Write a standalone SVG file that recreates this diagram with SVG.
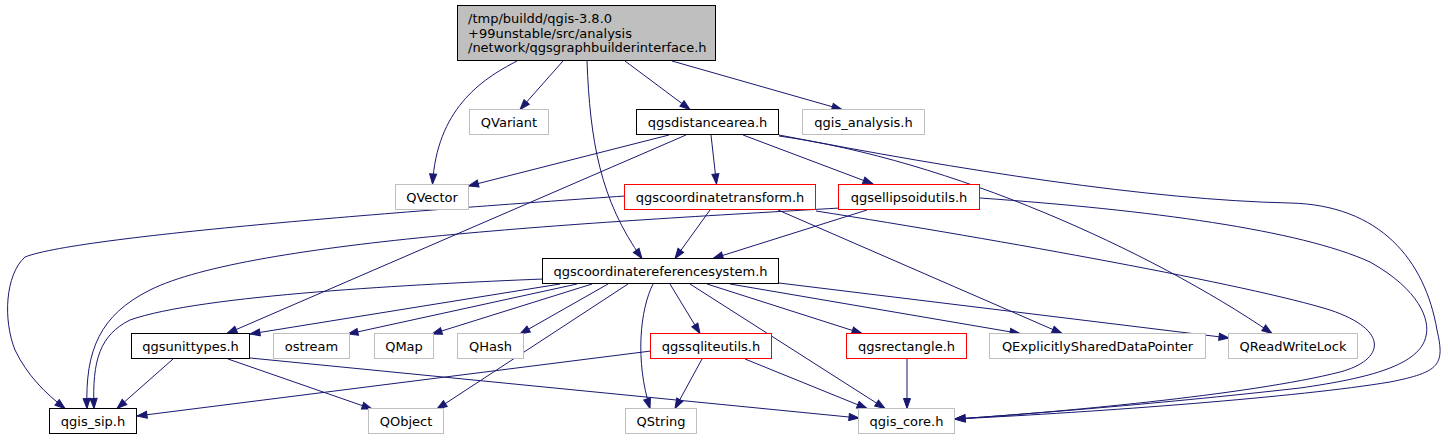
<svg xmlns="http://www.w3.org/2000/svg" width="1448" height="440" viewBox="0 0 1448 440">
<style>
.n rect{fill:#fff;stroke-width:1}
.k rect{stroke:#000}
.g rect{stroke:#bfbfbf}
.r rect{stroke:#ff0000}
text{font-family:"DejaVu Sans","Liberation Sans",sans-serif;font-size:13px;fill:#000}
.n text{text-anchor:middle}
#edges path{fill:none;stroke:#191970;stroke-width:1;marker-end:url(#ah)}
</style>
<defs>
<marker id="ah" viewBox="-1 -1 12 9" refX="10" refY="3.5" markerWidth="12" markerHeight="9" markerUnits="userSpaceOnUse" orient="auto">
<path d="M0,0 L10,3.5 L0,7 z" fill="#191970" stroke="#191970" stroke-width="1"/>
</marker>
</defs>
<rect width="1448" height="440" fill="#fff"/>
<g id="edges">
<path d="M517,61 C480,80 437,110 432.5,184"/>
<path d="M563,61 L520,109.5"/>
<path d="M587,61 C590,140 600,200 642,258.5"/>
<path d="M625,61 L690,109.5"/>
<path d="M672,61 L842,109.5"/>
<path d="M669,135 L468.5,186"/>
<path d="M686,135 L227,333.5"/>
<path d="M711,135 L716.5,184"/>
<path d="M743,135 L873,184"/>
<path d="M779,136 C950,160 1150,250 1272,333.5"/>
<path d="M779,135 C960,170 1150,200 1290,203 C1380,205 1425,260 1437,330 C1445,365 1440,372 1390,382 C1300,397 1100,412 955,419"/>
<path d="M980,198 C1150,210 1300,230 1370,262 C1420,290 1430,320 1426,336 C1420,365 1370,378 1300,388 C1150,405 1000,416 955,419"/>
<path d="M816,211 C1000,240 1250,285 1330,310 C1390,330 1385,360 1340,372 C1250,395 1050,413 955,419"/>
<path d="M625,196 C450,208 80,235 25,257 C5,275 3,320 15,350 C27,375 45,393 65,408.5"/>
<path d="M840,208 C600,222 250,240 150,290 C100,315 85,350 87,408.5"/>
<path d="M543,279 C420,284 200,295 130,320 C100,335 92,360 94,408.5"/>
<path d="M778,210 L1062,333.5"/>
<path d="M710,210 L675,258.5"/>
<path d="M867,210 L713,258.5"/>
<path d="M560,284 L250,334"/>
<path d="M577,284 L348,334"/>
<path d="M592,284 L432,334"/>
<path d="M608,284 L520,334"/>
<path d="M628,284 L437,409"/>
<path d="M653,284 C640,310 635,360 650,408.5"/>
<path d="M670,284 L700,333.5"/>
<path d="M690,284 L885,408.5"/>
<path d="M707,284 L862,333.5"/>
<path d="M730,284 L1020,333.5"/>
<path d="M779,283 L1229,338"/>
<path d="M173,359 L117,408.5"/>
<path d="M228,359 L372,409"/>
<path d="M250,358 L859,418"/>
<path d="M651,351 L137,416"/>
<path d="M702,359 L675,408.5"/>
<path d="M745,359 L867,408.5"/>
<path d="M907,359 L907,408.5"/>
</g>
<g id="root"><rect x="457.5" y="5.5" width="258" height="55" fill="#bfbfbf" stroke="#000"/>
<text x="468" y="22.5">/tmp/buildd/qgis-3.8.0</text>
<text x="468" y="37.5">+99unstable/src/analysis</text>
<text x="468" y="52">/network/qgsgraphbuilderinterface.h</text></g>
<g id="QVariant" class="n g"><rect x="469.5" y="109.5" width="79" height="25"/><text x="509" y="126.5">QVariant</text></g>
<g id="qgsdistancearea" class="n k"><rect x="636.5" y="109.5" width="142" height="25"/><text x="707.5" y="126.5">qgsdistancearea.h</text></g>
<g id="qgis_analysis" class="n g"><rect x="802.5" y="109.5" width="122" height="25"/><text x="863.5" y="126.5">qgis_analysis.h</text></g>
<g id="QVector" class="n g"><rect x="395.5" y="184.5" width="73" height="25"/><text x="432" y="201.5">QVector</text></g>
<g id="qgscoordinatetransform" class="n r"><rect x="624.5" y="184.5" width="191" height="25"/><text x="720" y="201.5">qgscoordinatetransform.h</text></g>
<g id="qgsellipsoidutils" class="n r"><rect x="838.5" y="184.5" width="141" height="25"/><text x="909" y="201.5">qgsellipsoidutils.h</text></g>
<g id="qgscoordinatereferencesystem" class="n k"><rect x="542.5" y="258.5" width="236" height="25"/><text x="660.5" y="275.5">qgscoordinatereferencesystem.h</text></g>
<g id="qgsunittypes" class="n k"><rect x="131.5" y="333.5" width="118" height="25"/><text x="190.5" y="350.5">qgsunittypes.h</text></g>
<g id="ostream" class="n g"><rect x="273.5" y="333.5" width="76" height="25"/><text x="311.5" y="350.5">ostream</text></g>
<g id="QMap" class="n g"><rect x="374.5" y="333.5" width="59" height="25"/><text x="404" y="350.5">QMap</text></g>
<g id="QHash" class="n g"><rect x="457.5" y="333.5" width="66" height="25"/><text x="490.5" y="350.5">QHash</text></g>
<g id="qgssqliteutils" class="n r"><rect x="650.5" y="333.5" width="121" height="25"/><text x="711" y="350.5">qgssqliteutils.h</text></g>
<g id="qgsrectangle" class="n r"><rect x="846.5" y="333.5" width="120" height="25"/><text x="906.5" y="350.5">qgsrectangle.h</text></g>
<g id="QExplicitlySharedDataPointer" class="n g"><rect x="989.5" y="333.5" width="216" height="25"/><text x="1097.5" y="350.5">QExplicitlySharedDataPointer</text></g>
<g id="QReadWriteLock" class="n g"><rect x="1228.5" y="333.5" width="129" height="25"/><text x="1293" y="350.5">QReadWriteLock</text></g>
<g id="qgis_sip" class="n k"><rect x="49.5" y="408.5" width="87" height="25"/><text x="93" y="425.5">qgis_sip.h</text></g>
<g id="QObject" class="n g"><rect x="368.5" y="408.5" width="75" height="25"/><text x="406" y="425.5">QObject</text></g>
<g id="QString" class="n g"><rect x="625.5" y="408.5" width="71" height="25"/><text x="661" y="425.5">QString</text></g>
<g id="qgis_core" class="n g"><rect x="858.5" y="408.5" width="96" height="25"/><text x="906.5" y="425.5">qgis_core.h</text></g>
</svg>
